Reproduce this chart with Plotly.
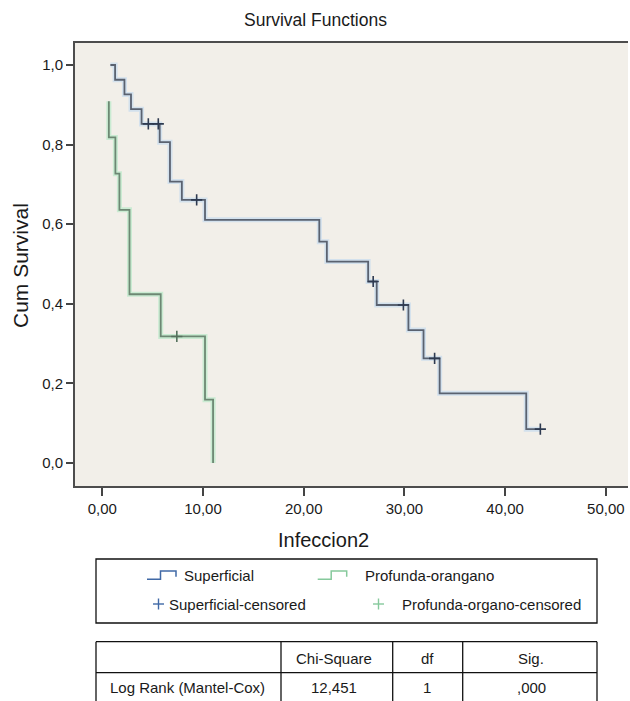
import plotly.graph_objects as go

# ---------------- data ----------------
sup_times = [0.8, 1.27, 2.2, 2.85, 3.9, 5.7, 6.72, 7.9, 10.2, 21.55, 22.3, 26.4, 27.25, 30.4, 31.9, 33.5, 42.1, 43.5]
sup_surv = [1.0, 0.963, 0.926, 0.889, 0.852, 0.806, 0.707, 0.661, 0.611, 0.556, 0.506, 0.456, 0.397, 0.334, 0.263, 0.175, 0.085, 0.085]
sup_cens_t = [4.57, 5.56, 9.37, 26.9, 29.9, 33.0, 43.5]
sup_cens_s = [0.852, 0.852, 0.661, 0.456, 0.397, 0.263, 0.085]

grn_times = [0.65, 0.65, 1.3, 1.7, 2.7, 5.8, 10.2, 11.0]
grn_surv = [0.909, 0.818, 0.727, 0.636, 0.424, 0.318, 0.159, 0.0]
grn_cens_t = [7.4]
grn_cens_s = [0.318]

x_tickvals = [0, 10, 20, 30, 40, 50]
x_ticktext = ["0,00", "10,00", "20,00", "30,00", "40,00", "50,00"]
y_tickvals = [0.0, 0.2, 0.4, 0.6, 0.8, 1.0]
y_ticktext = ["0,0", "0,2", "0,4", "0,6", "0,8", "1,0"]

legend_labels = ["Superficial", "Profunda-orangano", "Superficial-censored", "Profunda-organo-censored"]
table_header = ["", "Chi-Square", "df", "Sig."]
table_row = ["Log Rank (Mantel-Cox)", "12,451", "1", ",000"]

# ---------------- styling ----------------
W, H = 630, 701
FONT = "Liberation Sans, Arial, Helvetica, sans-serif"
SUP_LINE = "#5a6270"
SUP_HALO = "rgba(190,215,240,0.6)"
GRN_LINE = "#6d8873"
GRN_HALO = "rgba(175,232,195,0.6)"
SUP_LEG = "#4069a6"
GRN_LEG = "#86c99c"


def px(x):
    return x / W


def py(y):
    return 1 - y / H


fig = go.Figure()

# halos
fig.add_trace(go.Scatter(x=sup_times, y=sup_surv, mode="lines", line=dict(shape="hv", color=SUP_HALO, width=5),
                         hoverinfo="skip"))
fig.add_trace(go.Scatter(x=grn_times, y=grn_surv, mode="lines", line=dict(shape="hv", color=GRN_HALO, width=5),
                         hoverinfo="skip"))
# curves
fig.add_trace(go.Scatter(x=sup_times, y=sup_surv, mode="lines", line=dict(shape="hv", color=SUP_LINE, width=1.8),
                         name="Superficial"))
fig.add_trace(go.Scatter(x=grn_times, y=grn_surv, mode="lines", line=dict(shape="hv", color=GRN_LINE, width=1.8),
                         name="Profunda-orangano"))
# censored marks
fig.add_trace(go.Scatter(x=sup_cens_t, y=sup_cens_s, mode="markers",
                         marker=dict(symbol="cross-thin", size=8, line=dict(width=1.6, color="#2e3a50")),
                         name="Superficial-censored"))
fig.add_trace(go.Scatter(x=grn_cens_t, y=grn_cens_s, mode="markers",
                         marker=dict(symbol="cross-thin", size=8, line=dict(width=1.6, color="#55705c")),
                         name="Profunda-organo-censored"))

x0 = 102.3
xs = 10.07
y0p = 463.0
ys = 398.0
left, right, top, bottom = 75, 628, 43, 486

fig.update_layout(
    width=W, height=H, autosize=False,
    margin=dict(l=0, r=0, t=0, b=0),
    paper_bgcolor="white",
    plot_bgcolor="#f2efe9",
    showlegend=False,
    font=dict(family=FONT, color="#1a1a1a", size=15),
    xaxis=dict(domain=[px(left), px(right)],
               range=[(left - x0) / xs, (right - x0) / xs],
               tickvals=x_tickvals, ticktext=x_ticktext,
               ticks="outside", ticklen=8, tickwidth=1.5, tickcolor="#444",
               showline=True, linewidth=2, linecolor="#4d4d4d", mirror=True,
               showgrid=False, zeroline=False, tickfont=dict(size=15)),
    yaxis=dict(domain=[py(bottom), py(top)],
               range=[(y0p - bottom) / ys, (y0p - top) / ys],
               tickvals=y_tickvals, ticktext=y_ticktext,
               ticks="outside", ticklen=7, tickwidth=1.5, tickcolor="#444",
               showline=True, linewidth=2, linecolor="#4d4d4d", mirror=False,
               showgrid=False, zeroline=False, tickfont=dict(size=15)),
)

annotations = []
shapes = []

# titles
annotations.append(dict(x=px(315), y=py(20), xref="paper", yref="paper", text="Survival Functions",
                        showarrow=False, font=dict(size=17.5), xanchor="center", yanchor="middle"))
annotations.append(dict(x=px(323), y=py(540), xref="paper", yref="paper", text="Infeccion2",
                        showarrow=False, font=dict(size=20), xanchor="center", yanchor="middle"))
annotations.append(dict(x=px(20), y=py(266), xref="paper", yref="paper", text="Cum Survival",
                        showarrow=False, font=dict(size=21), textangle=-90, xanchor="center", yanchor="middle"))

# legend box
shapes.append(dict(type="rect", xref="paper", yref="paper", x0=px(96), x1=px(597), y0=py(623), y1=py(559),
                   line=dict(color="#111", width=1.3), fillcolor="rgba(0,0,0,0)"))


def step_symbol(xa, color):
    path = (f"M {px(xa)} {py(579.3)} L {px(xa + 13.5)} {py(579.3)} L {px(xa + 13.5)} {py(571)} "
            f"L {px(xa + 29)} {py(571)} L {px(xa + 29)} {py(576.7)}")
    return dict(type="path", xref="paper", yref="paper", path=path, line=dict(color=color, width=1.5))


def cross(xc, yc, color, half=5.5):
    return [dict(type="line", xref="paper", yref="paper", x0=px(xc - half), x1=px(xc + half), y0=py(yc), y1=py(yc),
                 line=dict(color=color, width=1.4)),
            dict(type="line", xref="paper", yref="paper", x0=px(xc), x1=px(xc), y0=py(yc - half), y1=py(yc + half),
                 line=dict(color=color, width=1.4))]


shapes.append(step_symbol(147, SUP_LEG))
shapes.append(step_symbol(317.7, GRN_LEG))
shapes += cross(158.5, 604, SUP_LEG)
shapes += cross(378.5, 604, GRN_LEG)

leg_pos = [(182, 575), (363, 575), (167, 604), (400, 604)]
for lbl, (lx, ly) in zip(legend_labels, leg_pos):
    annotations.append(dict(x=px(lx), y=py(ly), xref="paper", yref="paper", text=lbl, showarrow=False,
                            font=dict(size=15), xanchor="left", yanchor="middle"))

# table
t_top, t_mid, t_bot = 641.7, 672.7, 701
col_edges = [96, 281, 392.7, 462.7, 597]
for yy in (t_top, t_mid):
    shapes.append(dict(type="line", xref="paper", yref="paper", x0=px(col_edges[0]), x1=px(col_edges[-1]),
                       y0=py(yy), y1=py(yy), line=dict(color="#111", width=1.3)))
for xx in col_edges:
    shapes.append(dict(type="line", xref="paper", yref="paper", x0=px(xx), x1=px(xx),
                       y0=py(t_top), y1=py(t_bot), line=dict(color="#111", width=1.3)))

col_centers = [187, 334, 427, 531]
for txt, cx in zip(table_header, col_centers):
    if txt:
        annotations.append(dict(x=px(cx), y=py(658), xref="paper", yref="paper", text=txt, showarrow=False,
                                font=dict(size=15), xanchor="center", yanchor="middle"))
for txt, cx in zip(table_row, col_centers):
    annotations.append(dict(x=px(cx), y=py(687), xref="paper", yref="paper", text=txt, showarrow=False,
                            font=dict(size=15), xanchor="center", yanchor="middle"))

fig.update_layout(annotations=annotations, shapes=shapes)

fig.write_html("out.html", config={"displayModeBar": False},
               post_script="document.body.style.margin='0';document.body.style.overflow='hidden';")
